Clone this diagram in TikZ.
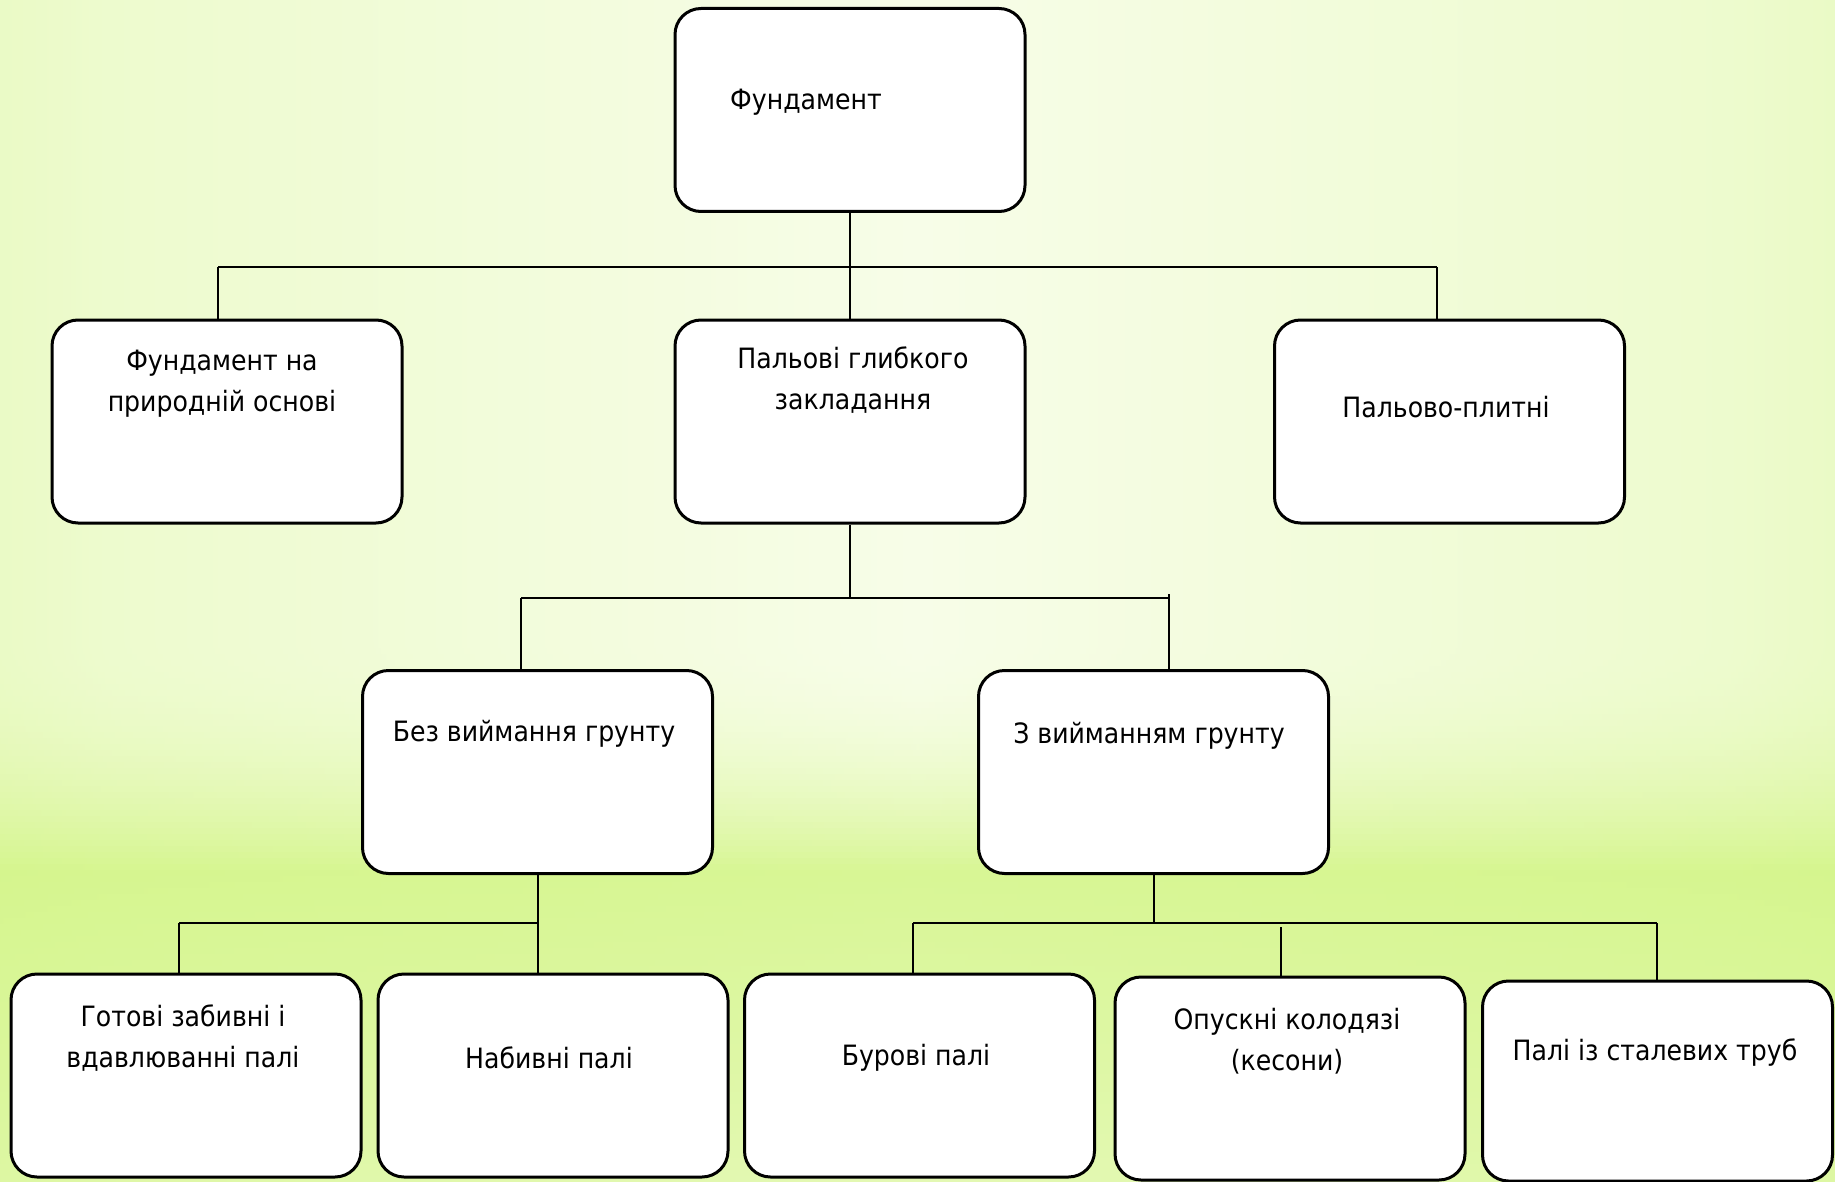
\documentclass[tikz,border=0pt]{standalone}
\usepackage{fontspec}
\setmainfont{DejaVu Sans Condensed}
\usetikzlibrary{positioning}

\definecolor{bggreen}{RGB}{208,244,128}
\definecolor{bglight}{RGB}{247,253,232}
\colorlet{sedge}{bggreen}
\colorlet{smid}{bglight}
\pgfdeclarehorizontalshading[sedge,smid]{stripe}{100bp}{color(0bp)=(sedge); color(28bp)=(smid!75!sedge); color(50bp)=(smid); color(72bp)=(smid!75!sedge); color(100bp)=(sedge)}

\tikzset{
  box/.style={draw, line width=3pt, rounded corners=26pt, fill=white,
    minimum width=350pt, minimum height=203pt, inner sep=0pt},
  lbl/.style={align=center, inner sep=0pt, font=\fontsize{28}{41}\selectfont},
  link/.style={line width=2pt},
}

\begin{document}
\begin{tikzpicture}[x=1pt, y=-1pt]
  \useasboundingbox (0,0) rectangle (1835,1182);

  % background, in strips
  \foreach \sy in {0,6,...,1188} {
    \pgfmathsetmacro\bandp{(\sy<640) ? 0 : ((\sy<868) ? 80*((\sy/228-640/228)^2) : 80-30*(\sy/314-868/314))}
    \colorlet{smid}{bggreen!\bandp!bglight}
    \fill[shading=stripe] (-2,\sy) rectangle (1837,\sy+7);
  }

  % boxes
  \node[box] (fund) at (850,110) {};
  \node[box] (nat) at (227,421.5) {};
  \node[box] (pile) at (850,421.5) {};
  \node[box] (slab) at (1449.5,421.5) {};
  \node[box] (nodig) at (537.5,772) {};
  \node[box] (dig) at (1153.5,772) {};
  \node[box] (ready) at (186,1075.5) {};
  \node[box] (stuffed) at (553,1075.5) {};
  \node[box] (bored) at (919.5,1075.5) {};
  \node[box] (caisson) at (1290,1078.5) {};
  \node[box, minimum height=200pt] (steel) at (1657.5,1081) {};

  % labels
  \node[lbl] (fund-t) at (806,102) {Фундамент};
  \node[lbl] (nat-t) at (222,384) {Фундамент на\\природній основі};
  \node[lbl] (pile-t) at (853,380) {Пальові глибкого\\закладання};
  \node[lbl] (slab-t) at (1446,407) {Пальово-плитні};
  \node[lbl] (nodig-t) at (534,734) {Без виймання грунту};
  \node[lbl] (dig-t) at (1149,736) {З вийманням грунту};
  \node[lbl] (ready-t) at (183,1038) {Готові забивні і\\вдавлюванні палі};
  \node[lbl] (stuffed-t) at (549,1058) {Набивні палі};
  \node[lbl] (bored-t) at (916,1058) {Бурові палі};
  \node[lbl] (caisson-t) at (1287,1041) {Опускні колодязі\\(кесони)};
  \node[lbl] (steel-t) at (1655,1053) {Палі із сталевих труб};

  % bus points
  \coordinate (b1l) at (218,267);
  \coordinate (b1r) at (1437,267);
  \coordinate (b2l) at (521,598);
  \coordinate (b2r) at (1169,598);
  \coordinate (b3l) at (179,923);
  \coordinate (b4l) at (913,923);
  \coordinate (b4m) at (1281,927);
  \coordinate (b4r) at (1657,923);

  % edges
  \draw[link] (fund.south) -- (pile.north);
  \draw[link] (b1l) -- (b1r);
  \draw[link] (b1l) -- (b1l |- nat.north);
  \draw[link] (b1r) -- (b1r |- slab.north);

  \draw[link] (pile.south) -- (pile.south |- b2l);
  \draw[link] (b2l) -- (b2r);
  \draw[link] (b2l) -- (b2l |- nodig.north);
  \draw[link] ([yshift=4pt]b2r) -- (b2r |- dig.north);

  \draw[link] (nodig.south) -- (nodig.south |- stuffed.north);
  \draw[link] (b3l) -- (nodig.south |- b3l);
  \draw[link] (b3l) -- (b3l |- ready.north);

  \draw[link] (dig.south) -- (dig.south |- b4l);
  \draw[link] (b4l) -- (b4r);
  \draw[link] (b4l) -- (b4l |- bored.north);
  \draw[link] (b4m) -- (b4m |- caisson.north);
  \draw[link] (b4r) -- (b4r |- steel.north);
\end{tikzpicture}
\end{document}
